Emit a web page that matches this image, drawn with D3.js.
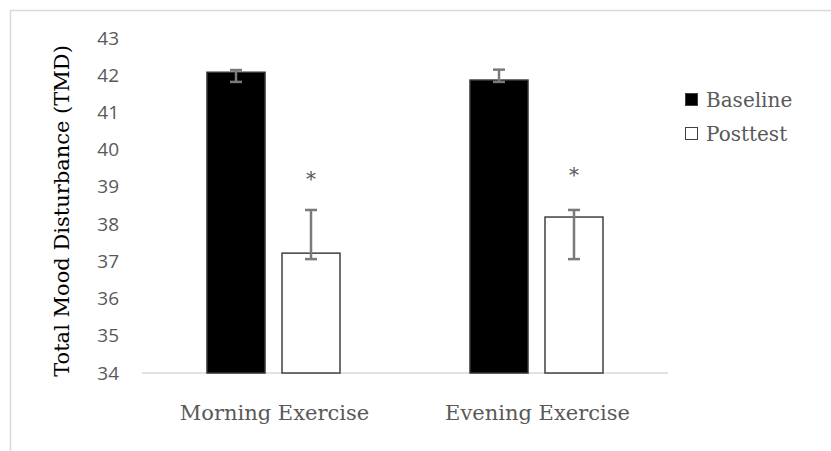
<!DOCTYPE html>
<html lang="en">
<head>
  <meta charset="UTF-8">
  <title>Total Mood Disturbance</title>
  <style>
    body { margin: 0; background: #fff; }
    .tick text { font-family: "Open Sans", sans-serif; font-size: 19px; fill: #595959; }
    .serif { font-family: "DejaVu Serif", serif; }
  </style>
  <script src="https://d3js.org/d3.v7.min.js"></script>
</head>
<body>
  <svg id="chart"></svg>
  <script>
    var categories = ['Morning Exercise', 'Evening Exercise'];
    var series = ['Baseline', 'Posttest'];
    var baseline = [42.08, 41.87];
    var baselineHi = [42.14, 42.15];
    var baselineLo = [41.82, 41.82];
    var posttest = [37.22, 38.19];
    var posttestHi = [38.38, 38.38];
    var posttestLo = [37.06, 37.06];
    var yTicks = [34, 35, 36, 37, 38, 39, 40, 41, 42, 43];
    var marks = ['*', '*'];
    var markAt = [39.02, 39.12];

    var width = 831, height = 451;
    var svg = d3.select('#chart').attr('width', width).attr('height', height);

    // frame (only top and left edges fall inside the picture)
    svg.append('path')
      .attr('d', 'M10.5,' + height + 'V10.5H' + width)
      .attr('fill', 'none').attr('stroke', '#d9d9d9').attr('stroke-width', 1.5);

    var x0 = d3.scaleBand().domain(categories).range([142, 668]).padding(0);
    var x1 = d3.scaleBand().domain(series).range([-67, 67]).paddingInner(16 / 75);
    var y = d3.scaleLinear().domain([34, 43]).range([373, 38]);

    // y axis labels only
    var yAxis = d3.axisLeft(y).tickValues(yTicks).tickSize(0).tickPadding(0).tickFormat(d3.format('d'));
    svg.append('g').attr('transform', 'translate(119,0)').call(yAxis)
      .call(function(g) { g.select('.domain').remove(); });

    // x axis line
    svg.append('line')
      .attr('x1', x0.range()[0]).attr('x2', x0.range()[1])
      .attr('y1', y(34)).attr('y2', y(34))
      .attr('stroke', '#d9d9d9').attr('stroke-width', 1.5);

    var rows = categories.map(function(c, i) {
      return [
        { cat: c, s: 'Baseline', v: baseline[i], hi: baselineHi[i], lo: baselineLo[i] },
        { cat: c, s: 'Posttest', v: posttest[i], hi: posttestHi[i], lo: posttestLo[i], mark: marks[i], at: markAt[i] }
      ];
    });
    var flat = [].concat.apply([], rows);
    function cx(d) { return x0(d.cat) + x0.bandwidth() / 2 + x1(d.s); }

    svg.append('g').selectAll('rect').data(flat).enter().append('rect')
      .attr('x', function(d) { return cx(d) + 0.5; })
      .attr('width', x1.bandwidth() - 1)
      .attr('y', function(d) { return y(d.v); })
      .attr('height', function(d) { return y(34) - y(d.v); })
      .attr('fill', function(d) { return d.s === 'Baseline' ? '#000' : '#fff'; })
      .attr('stroke', function(d) { return d.s === 'Baseline' ? '#333' : '#404040'; })
      .attr('stroke-width', 1.5);

    // error bars
    var eb = svg.append('g').attr('stroke', '#7a7a7a').attr('stroke-width', 2.5);
    flat.forEach(function(d) {
      var m = cx(d) + x1.bandwidth() / 2;
      eb.append('line').attr('x1', m).attr('x2', m).attr('y1', y(d.hi)).attr('y2', y(d.lo));
      eb.append('line').attr('x1', m - 6).attr('x2', m + 6).attr('y1', y(d.hi)).attr('y2', y(d.hi));
      eb.append('line').attr('x1', m - 6).attr('x2', m + 6).attr('y1', y(d.lo)).attr('y2', y(d.lo));
    });

    // significance marks
    svg.append('g').selectAll('text').data(flat.filter(function(d) { return d.mark; }))
      .enter().append('text')
      .attr('class', 'serif')
      .attr('x', function(d) { return cx(d) + x1.bandwidth() / 2; })
      .attr('y', function(d) { return y(d.at); })
      .attr('text-anchor', 'middle')
      .attr('font-size', 20).attr('fill', '#595959')
      .text(function(d) { return d.mark; });

    // category labels
    svg.append('g').selectAll('text').data(categories).enter().append('text')
      .attr('class', 'serif')
      .attr('x', function(d) { return x0(d) + x0.bandwidth() / 2 + 1; })
      .attr('y', 420)
      .attr('text-anchor', 'middle')
      .attr('font-size', 21).attr('fill', '#595959')
      .text(function(d) { return d; });

    // y title
    svg.append('text')
      .attr('class', 'serif')
      .attr('transform', 'translate(69,' + 211 + ') rotate(-90)')
      .attr('text-anchor', 'middle')
      .attr('font-size', 21).attr('fill', '#000')
      .text('Total Mood Disturbance (TMD)');

    // legend
    var lg = svg.append('g').selectAll('g').data(series).enter().append('g')
      .attr('transform', function(d, i) { return 'translate(685,' + (93 + i * 34) + ')'; });
    lg.append('rect').attr('width', 12).attr('height', 12)
      .attr('x', 0.5).attr('y', 0.5)
      .attr('fill', function(d) { return d === 'Baseline' ? '#000' : '#fff'; })
      .attr('stroke', '#404040').attr('stroke-width', 1);
    lg.append('text').attr('class', 'serif')
      .attr('x', 21).attr('y', 13.5)
      .attr('font-size', 20).attr('fill', '#595959')
      .text(function(d) { return d; });
  </script>
</body>
</html>
